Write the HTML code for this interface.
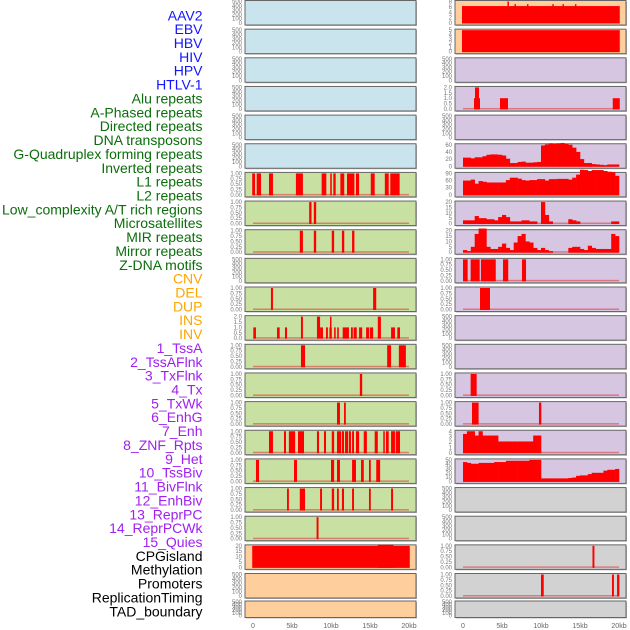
<!DOCTYPE html>
<html><head><meta charset="utf-8">
<style>
html,body{margin:0;padding:0;background:#fff;}
svg{display:block;font-family:"Liberation Sans",sans-serif;}
</style></head>
<body>
<svg id="chart" width="630" height="630" viewBox="0 0 630 630" xmlns="http://www.w3.org/2000/svg"></svg>
<script>
// ---- label data ----
const trackLabels = ["AAV2","EBV","HBV","HIV","HPV","HTLV-1","Alu repeats","A-Phased repeats","Directed repeats","DNA transposons","G-Quadruplex forming repeats","Inverted repeats","L1 repeats","L2 repeats","Low_complexity A/T rich regions","Microsatellites","MIR repeats","Mirror repeats","Z-DNA motifs","CNV","DEL","DUP","INS","INV","1_TssA","2_TssAFlnk","3_TxFlnk","4_Tx","5_TxWk","6_EnhG","7_Enh","8_ZNF_Rpts","9_Het","10_TssBiv","11_BivFlnk","12_EnhBiv","13_ReprPC","14_ReprPCWk","15_Quies","CPGisland","Methylation","Promoters","ReplicationTiming","TAD_boundary"];
const labelGroupSizes = [6,13,5,15,5];
const labelGroupColors = ["#1414ff","#0a6e0a","#ffa500","#a020f0","#000000"];
const xTickValues = [0,5,10,15,20];
const xTickLabels = ["0","5kb","10kb","15kb","20kb"];

// ---- left column span data (kb) ----
const spansL6 = [[-0.1,0.26],[0.47,1.03],[2.05,2.56],[5.5,6.4],[8.8,9.4],[9.9,10.1],[10.3,10.6],[11.2,11.7],[12.05,13.0],[13.2,13.6],[15.1,15.6],[16.9,17.4],[17.6,18.8]];
const spansL7 = [[7.2,7.5],[7.8,8.1]];
const spansL8 = [[6.0,6.4],[7.8,8.1],[10.1,10.4],[11.4,11.7],[12.7,13.0]];
const spansL10 = [[2.3,2.56],[15.4,15.8]];
const spansL11 = [[0.04,0.38],[3.08,3.42],[4.1,4.36],[6.15,6.4],[8.2,8.6],[8.6,8.97],[9.36,9.6],[9.8,10.1],[10.4,10.6],[10.8,11.0],[11.5,12.3],[12.56,12.8],[12.9,13.3],[13.6,14.0],[14.5,14.9],[15.0,15.4],[16.0,16.4],[17.7,18.2],[18.5,18.85],[9.87,10.0]];
const valsL11 = [1,1,1,2,2,1,1,1,1,1,1,1,1,1,1,1,2,1,1,2];
const spansL12 = [[6.15,6.67],[17.2,17.7],[18.7,19.6]];
const spansL13 = [[13.7,14.0]];
const spansL14 = [[10.77,11.15],[11.67,11.9]];
const spansL15 = [[2.05,2.56],[3.97,4.23],[4.6,5.4],[5.77,6.54],[8.2,8.46],[9.1,9.36],[10.1,10.4],[10.77,11.3],[11.4,11.67],[11.8,12.2],[12.3,12.56],[12.7,12.95],[13.2,13.6],[14.2,14.6],[15.6,16.0],[16.7,16.9],[17.05,17.4],[17.7,18.2],[18.3,18.85]];
const spansL16 = [[0.38,0.77],[5.26,5.64],[10.0,10.4],[10.77,11.15],[12.7,13.2],[13.85,14.2],[14.87,15.1],[15.8,16.3]];
const spansL17 = [[4.36,4.6],[6.0,6.67],[8.6,8.85],[10.1,10.4],[10.77,11.0],[11.4,11.67],[12.7,12.95],[14.87,15.1],[17.7,17.95]];
const spansL18 = [[8.15,8.4]];
const spansL19 = [[-0.1,20.1],[16.0,18.0]];
const valsL19 = [20,21];

// ---- right column data ----
const spansR0 = [[-0.13,20.1],[5.7,5.85],[6.6,6.75],[8.2,8.35],[11.45,11.6],[12.75,12.9],[14.35,14.5]];
const valsR0 = [6.3,8,7,7,7,7,7];
const spansR1 = [[-0.13,20.1]];
const valsR1 = [5];
const spansR3 = [[1.41,2.18],[1.54,2.05],[4.74,5.77],[19.2,20.1]];
const valsR3 = [1,2,1,1];
const stepsR5 = [24,24,22,25,25,28,32,33,33,32,30,21,9,9,12,13,10,10,11,12,58,61,64,63,64,65,62,60,52,40,20,9,9,6,5,4,3,5,5,5];
const stepsR6 = [60,60,64,47,58,55,52,52,52,52,52,62,72,72,68,62,60,62,62,66,66,60,66,66,67,67,67,64,72,85,105,104,100,104,104,104,100,97,95,80];
const stepsR7 = [3,3,3,7,5,5,4,4,3,6,8,6,2,2,2,3,3,2,2,0,20,8,2,0,0,0,0,4,3,2,0,0,0,0,0,0,0,0,2,2];
const stepsR8 = [2,1,5,17,22,22,5,3,3,5,8,4,2,9,15,17,10,9,4,2,4,2,1,0,0,0,0,4,5,5,3,2,6,4,3,3,3,3,17,15];
const spansR9 = [[0,0.6],[0.98,2.14],[2.3,4.2],[5.13,5.8],[7.56,8.08]];
const spansR10 = [[2.18,3.46]];
const spansR13 = [[0.98,1.75]];
const spansR14 = [[1.15,2.0],[9.74,10.04]];
const stepsR15 = [3.5,4,4,3.2,4,3.2,3.2,3.2,3.2,2.1,2.1,2.1,2.1,2.1,2.1,2.1,2.1,2.1,3.2,3.2,0,0,0,0,0,0,0,0,0,0,0,0,0,0,0,0,0,0,0,0];
const stepsR16 = [45,43,41,41,43,43,43,43,45,45,45,48,48,48,48,48,48,50,50,50,7,7,7,7,7,7,7,8,9,13,14,14,17,20,20,20,25,27,27,29];
const spansR19 = [[16.6,16.85]];
const spansR20 = [[10.0,10.35],[19.1,19.35],[19.75,20.05]];

// ---- tick sets ----
const ticks500 = [0,100,200,300,400,500];
const ticks1 = [0,0.25,0.5,0.75,1.0];
const ticks2 = [0,0.5,1.0,1.5,2.0];
const ticks20 = [0,5,10,15,20];
const ticks60 = [0,20,40,60];
const ticks90 = [0,30,60,90];
const ticks8 = [0,2,4,6,8];
const ticks5 = [0,1,2,3,4,5];
const ticks4 = [0,1,2,3,4];
const ticks50 = [0,10,20,30,40,50];

const NS="http://www.w3.org/2000/svg";
const svg=document.getElementById('chart');
function mk(tag,attrs,parent){const e=document.createElementNS(NS,tag);for(const k in attrs)e.setAttribute(k,attrs[k]);(parent||svg).appendChild(e);return e;}

// labels
let li=0;
labelGroupSizes.forEach((n,g)=>{for(let j=0;j<n;j++){const t=mk('text',{x:202.5,y:20.3+li*13.86,'text-anchor':'end','font-size':'14',fill:labelGroupColors[g]});


t.textContent=trackLabels[li];li++;}});

const BLUE="#c9e4ec",GREEN="#c8e0a2",ORANGE="#fecf9c",PURPLE="#d6c6e2",GRAY="#d2d2d2";
function rowTop(r){return r<21?0.5+r*28.65:601;}
function rowH(r){return r<21?24.5:16.5;}
function fmt(v,ticks){const st=ticks[1]-ticks[0];if(st<0.5)return v.toFixed(2);if(st<1)return v.toFixed(1);if(ticks[ticks.length-1]<=2&&st===0.5)return v.toFixed(1);return String(v);}

function panel(col,row,bg,ticks,opts){
  const x0=col===0?245:455,x1=col===0?416:626;
  const top=rowTop(row),h=rowH(row);
  const g=mk('g',{});
  
  
  mk('rect',{x:x0+1,y:top+1,width:x1-x0,height:h,fill:'#b8b8b8'},g);
  mk('rect',{x:x0,y:top,width:x1-x0,height:h,fill:bg,stroke:'#666','stroke-width':1},g);
  const max=ticks[ticks.length-1];
  const yb=top+h-2, yt=top+1;
  const ys=v=>yb-(v/max)*(yb-yt);
  const xs=kb=>(col===0?253:463)+kb*7.8;
  ticks.forEach(v=>{const t=mk('text',{x:x0-3,y:ys(v)+2,'text-anchor':'end','font-size':'6',fill:'#777'},g);
    
    
    t.textContent=fmt(v,ticks);});
  if(opts){
    mk('rect',{x:xs(0),y:yb-1,width:xs(20)-xs(0),height:1.5,fill:'#e04040',opacity:0.6},g);
    if(opts.spans){opts.spans.forEach((s,i)=>{const v=opts.vals?opts.vals[i]:max;
      const r=mk('rect',{x:xs(s[0]),y:ys(v),width:Math.max(1.5,xs(s[1])-xs(s[0])),height:yb-ys(v)+0.5,fill:'#ff0000'},g);
      
      });}
    if(opts.steps){opts.steps.forEach((v,i)=>{if(v<=0)return;
      const r=mk('rect',{x:xs(i*0.5),y:ys(v),width:xs(0.5)-xs(0)+0.3,height:yb-ys(v)+0.5,fill:'#ff0000'},g);
      
      });}
  }
}

// left column
for(let r=0;r<6;r++)panel(0,r,BLUE,ticks500);
panel(0,6,GREEN,ticks1,{spans:spansL6});
panel(0,7,GREEN,ticks1,{spans:spansL7});
panel(0,8,GREEN,ticks1,{spans:spansL8});
panel(0,9,GREEN,ticks500);
panel(0,10,GREEN,ticks1,{spans:spansL10});
panel(0,11,GREEN,ticks2,{spans:spansL11,vals:valsL11});
panel(0,12,GREEN,ticks1,{spans:spansL12});
panel(0,13,GREEN,ticks1,{spans:spansL13});
panel(0,14,GREEN,ticks1,{spans:spansL14});
panel(0,15,GREEN,ticks1,{spans:spansL15});
panel(0,16,GREEN,ticks1,{spans:spansL16});
panel(0,17,GREEN,ticks1,{spans:spansL17});
panel(0,18,GREEN,ticks1,{spans:spansL18});
panel(0,19,ORANGE,ticks20,{spans:spansL19,vals:valsL19});
panel(0,20,ORANGE,ticks500);
panel(0,21,ORANGE,ticks500);

// right column
panel(1,0,ORANGE,ticks8,{spans:spansR0,vals:valsR0});
panel(1,1,ORANGE,ticks5,{spans:spansR1,vals:valsR1});
panel(1,2,PURPLE,ticks500);
panel(1,3,PURPLE,ticks2,{spans:spansR3,vals:valsR3});
panel(1,4,PURPLE,ticks500);
panel(1,5,PURPLE,ticks60,{steps:stepsR5});
panel(1,6,PURPLE,ticks90,{steps:stepsR6});
panel(1,7,PURPLE,ticks20,{steps:stepsR7});
panel(1,8,PURPLE,ticks20,{steps:stepsR8});
panel(1,9,PURPLE,ticks1,{spans:spansR9});
panel(1,10,PURPLE,ticks1,{spans:spansR10});
panel(1,11,PURPLE,ticks500);
panel(1,12,PURPLE,ticks500);
panel(1,13,PURPLE,ticks1,{spans:spansR13});
panel(1,14,PURPLE,ticks1,{spans:spansR14});
panel(1,15,PURPLE,ticks4,{steps:stepsR15});
panel(1,16,PURPLE,ticks50,{steps:stepsR16});
panel(1,17,GRAY,ticks500);
panel(1,18,GRAY,ticks500);
panel(1,19,GRAY,ticks1,{spans:spansR19});
panel(1,20,GRAY,ticks1,{spans:spansR20});
panel(1,21,GRAY,ticks500);

// x axes
[253,463].forEach(base=>{xTickValues.forEach((v,i)=>{
  const t=mk('text',{x:base+v*7.8,y:628,'text-anchor':'middle','font-size':'7',fill:'#666'});
  
  
  t.textContent=xTickLabels[i];});});
</script>
</body></html>
